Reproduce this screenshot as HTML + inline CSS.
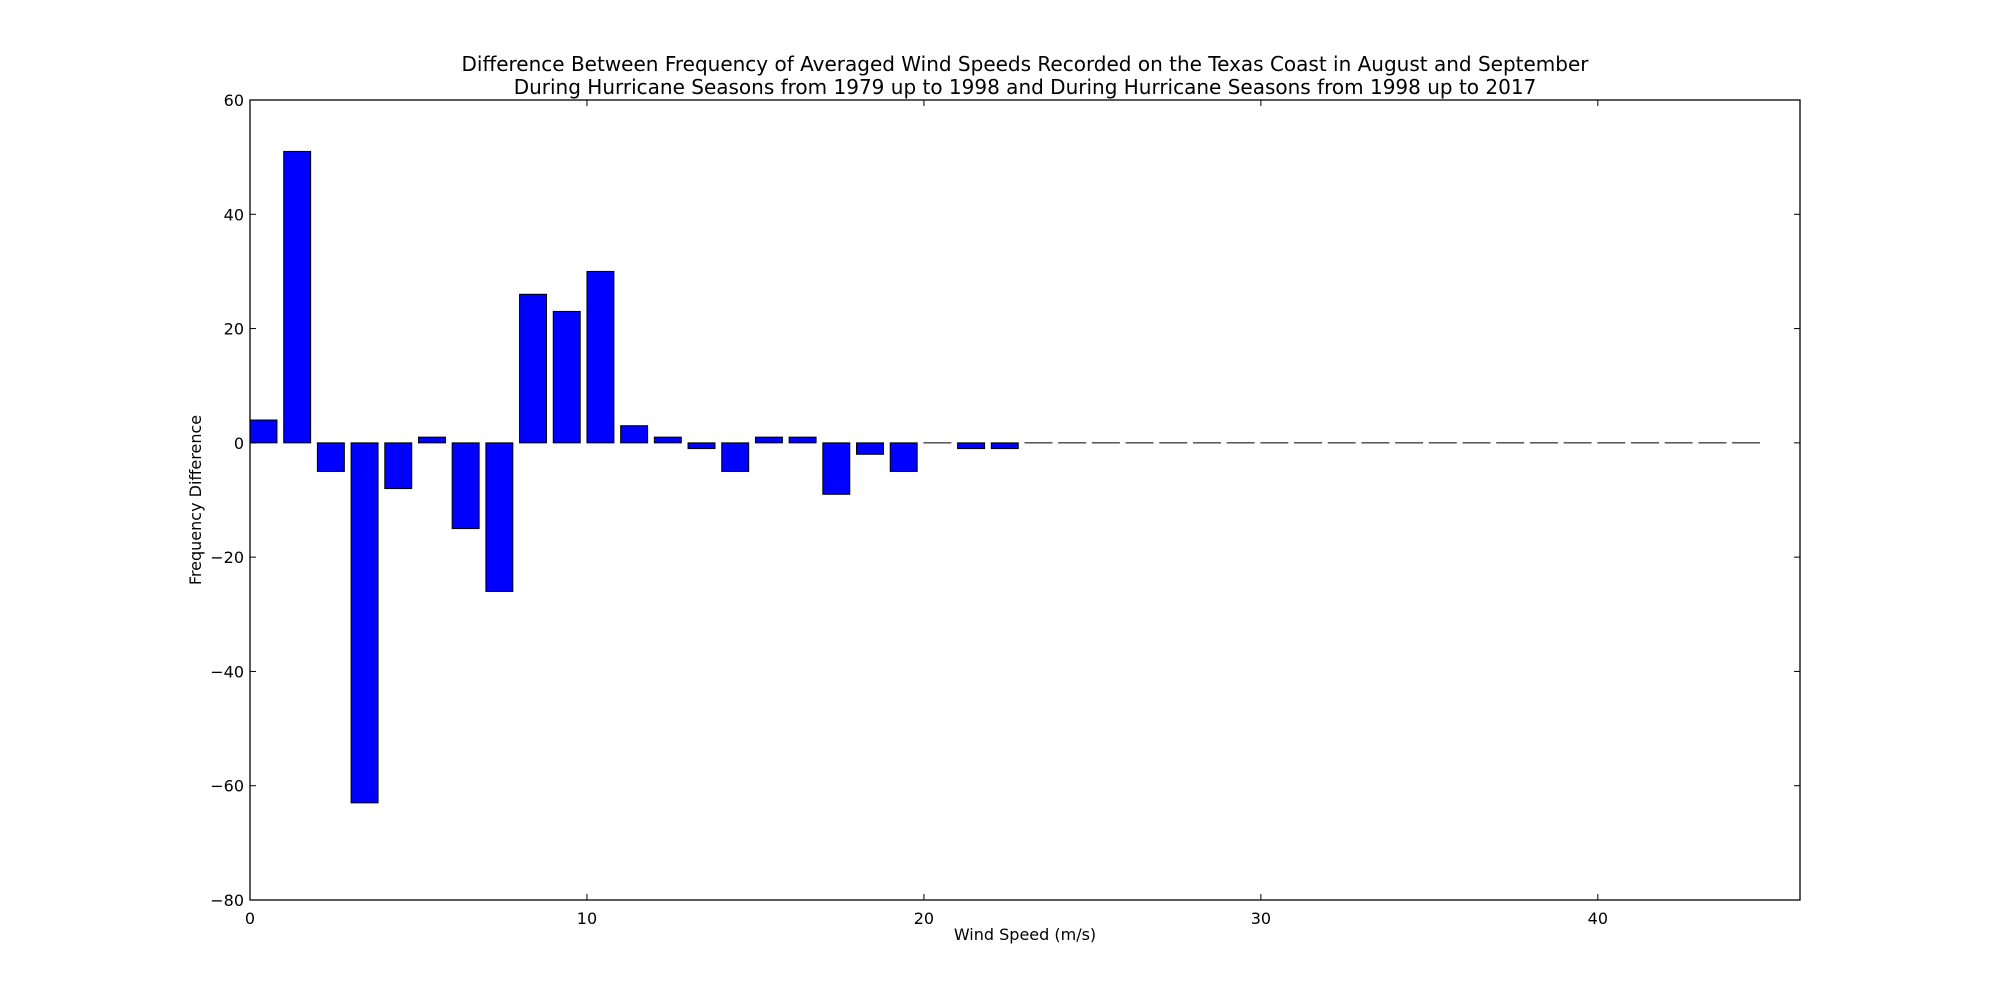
<!DOCTYPE html>
<html><head><meta charset="utf-8"><style>
html,body{margin:0;padding:0;background:#fff;}
svg{display:block;font-family:"DejaVu Sans","Liberation Sans",sans-serif;}
</style></head><body>
<svg id="chart" width="2000" height="1000" xmlns="http://www.w3.org/2000/svg">
<text x="1025" y="71" font-size="20" text-anchor="middle">Difference Between Frequency of Averaged Wind Speeds Recorded on the Texas Coast in August and September</text>
<text x="1025" y="94" font-size="20" text-anchor="middle">During Hurricane Seasons from 1979 up to 1998 and During Hurricane Seasons from 1998 up to 2017</text>
<g id="bars"></g>
<g id="axes"></g>
<text x="1025" y="940" font-size="16" text-anchor="middle">Wind Speed (m/s)</text>
<text x="0" y="0" font-size="16" text-anchor="middle" transform="translate(201,500) rotate(-90)">Frequency Difference</text>
</svg>
<script>
const categories = [0,1,2,3,4,5,6,7,8,9,10,11,12,13,14,15,16,17,18,19,20,21,22,23,24,25,26,27,28,29,30,31,32,33,34,35,36,37,38,39,40,41,42,43,44];
const values = [4,51,-5,-63,-8,1,-15,-26,26,23,30,3,1,-1,-5,1,1,-9,-2,-5,0,-1,-1,0,0,0,0,0,0,0,0,0,0,0,0,0,0,0,0,0,0,0,0,0,0];
const xTicks = [0,10,20,30,40];
const yTicks = [-80,-60,-40,-20,0,20,40,60];
const barWidth = 0.8;
const L=250,R=1800,T=100,B=900,xMin=0,xMax=46,yMin=-80,yMax=60;
const NS="http://www.w3.org/2000/svg";
function xs(v){return L+(v-xMin)/(xMax-xMin)*(R-L);}
function ys(v){return B-(v-yMin)/(yMax-yMin)*(B-T);}
const bars=document.getElementById('bars');
categories.forEach((c,i)=>{
  const v=values[i];
  const r=document.createElementNS(NS,'rect');
  const y0=ys(Math.max(v,0)), y1=ys(Math.min(v,0));
  r.setAttribute('x',xs(c));
  r.setAttribute('width',xs(c+barWidth)-xs(c));
  r.setAttribute('y',y0);
  r.setAttribute('height',Math.max(y1-y0,0.01));
  r.setAttribute('fill','#0000ff');
  r.setAttribute('stroke','#000');
  r.setAttribute('stroke-width','1');
  
  
  bars.appendChild(r);
});
const axes=document.getElementById('axes');
const frame=document.createElementNS(NS,'rect');
frame.setAttribute('x',L);frame.setAttribute('y',T);frame.setAttribute('width',R-L);frame.setAttribute('height',B-T);
frame.setAttribute('fill','none');frame.setAttribute('stroke','#000');frame.setAttribute('stroke-width','1.3');


axes.appendChild(frame);
function line(x1,y1,x2,y2){const l=document.createElementNS(NS,'line');l.setAttribute('x1',x1);l.setAttribute('y1',y1);l.setAttribute('x2',x2);l.setAttribute('y2',y2);l.setAttribute('stroke','#000');l.setAttribute('stroke-width','1');axes.appendChild(l);return l;}
function label(x,y,t,anchor){const e=document.createElementNS(NS,'text');e.setAttribute('x',x);e.setAttribute('y',y);e.setAttribute('font-size','16');e.setAttribute('text-anchor',anchor);e.textContent=t;axes.appendChild(e);return e;}
xTicks.forEach(t=>{
  const x=xs(t);
  const a=line(x,B,x,B-6);
  
  
  const b=line(x,T,x,T+6);
  
  
  const e=label(x,B+24,String(t),'middle');
  
  
});
yTicks.forEach(t=>{
  const y=ys(t);
  const a=line(L,y,L+6,y);
  
  
  const b=line(R,y,R-6,y);
  
  
  const e=label(L-6,y+6,String(t).replace('-','\u2212'),'end');
  
  
});
</script>
</body></html>
